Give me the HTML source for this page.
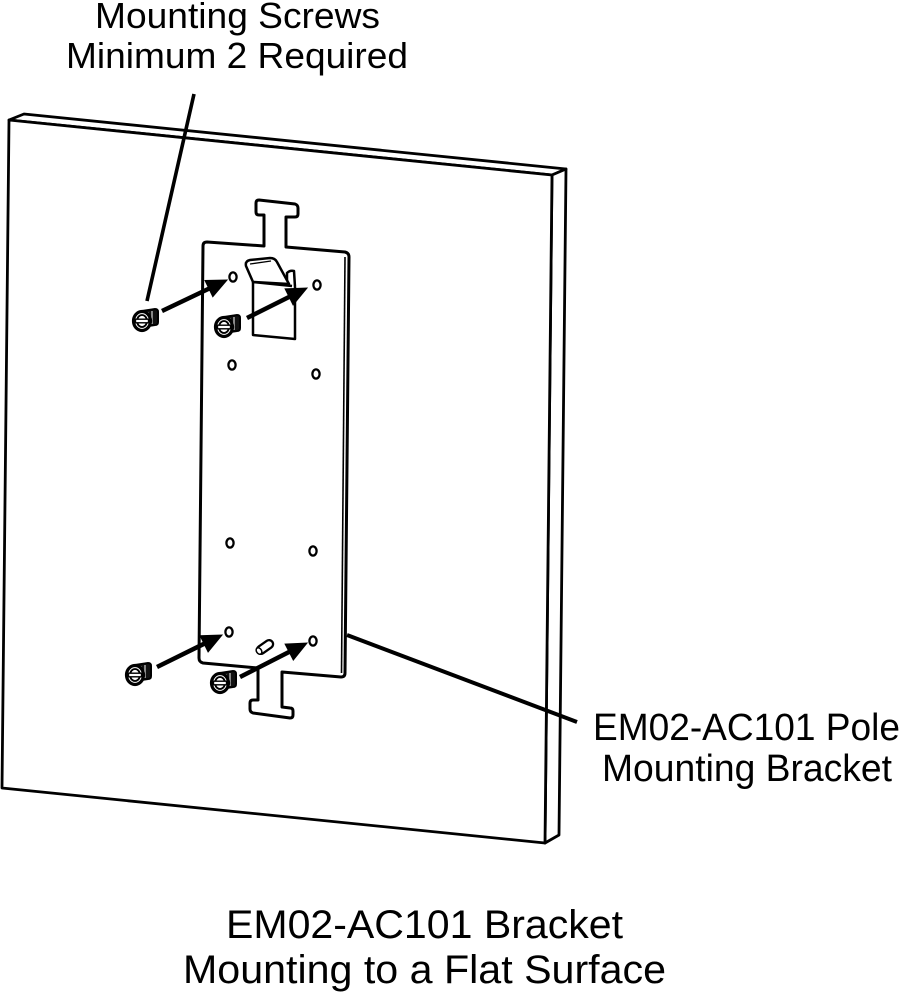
<!DOCTYPE html>
<html>
<head>
<meta charset="utf-8">
<style>
  html, body { margin: 0; padding: 0; background: #fff; }
  svg { display: block; }
  text { font-family: "Liberation Sans", Arial, sans-serif; fill: #000; }
</style>
</head>
<body>
<svg width="901" height="993" viewBox="0 0 901 993" xmlns="http://www.w3.org/2000/svg">
  <defs>
    <g id="screw">
      <path d="M0,-10 L13,-12 Q16,-12 16,-9 L16,1 Q16,4 13,4 L0,6 Z" fill="#111" stroke="#000" stroke-width="2"/>
      <line x1="6" y1="-9" x2="6" y2="3" stroke="#fff" stroke-width="1"/>
      <line x1="10" y1="-10" x2="10" y2="3" stroke="#fff" stroke-width="1"/>
      <ellipse cx="0" cy="0" rx="8.5" ry="9.5" fill="#fff" stroke="#000" stroke-width="3.2"/>
      <ellipse cx="0" cy="0" rx="5" ry="6" fill="none" stroke="#000" stroke-width="1.8"/>
      <rect x="-6.5" y="-1.8" width="13" height="3.6" fill="#fff" stroke="#000" stroke-width="1.4"/>
    </g>
  </defs>

  <!-- Board -->
  <g stroke="#000" stroke-width="2.8" stroke-linejoin="round" fill="#fff">
    <polygon points="9,120 24,114 566,169 552,175"/>
    <polygon points="552,175 566,169 559,835 545,843"/>
    <polygon points="9,120 552,175 545,843 2,788"/>
  </g>

  <!-- Plate -->
  <path d="M203,246 Q203,242 207,242 L264,246 L264,215 L259,215 Q256,215 256,212 L256,203 Q256,200 259,200 L295,204 Q298,205 298,208 L298,214 Q298,217 295,217 L286,217 L286,247 L345,252 Q349,253 349,257 L345,673 Q345,677 341,677 L282,672 L282,707 L290,708 Q293,708 293,711 L293,715 Q293,718 290,718 L253,713 Q250,712 250,709 L250,703 Q250,700 253,700 L258,700 L258,668 L203,663 Q199,662 199,658 Z"
        fill="#fff" stroke="#000" stroke-width="3" stroke-linejoin="round"/>
  <line x1="345" y1="257" x2="341.5" y2="673" stroke="#000" stroke-width="1.6"/>

  <!-- Clip -->
  <g fill="#fff" stroke="#000" stroke-width="2.5" stroke-linejoin="round">
    <path d="M253,282 L253,335 L295,339 L295,287"/>
    <path d="M287,286 L287,273 Q290,270 294,271 L295,287"/>
    <path d="M253,282 L246,266 Q245,261 250,260 L270,258 Q275,258 277,262 L289,284 Z"/>
    <path d="M250,264 L271,261" fill="none" stroke-width="1.3"/>
    <line x1="253" y1="282" x2="292" y2="286"/>
  </g>

  <!-- Holes -->
  <g fill="#fff" stroke="#000" stroke-width="2.3">
    <ellipse cx="233" cy="277" rx="3.6" ry="4.6"/>
    <ellipse cx="317" cy="285" rx="3.6" ry="4.6"/>
    <ellipse cx="232" cy="365" rx="3.6" ry="4.6"/>
    <ellipse cx="316" cy="374" rx="3.6" ry="4.6"/>
    <ellipse cx="230" cy="543" rx="3.6" ry="4.6"/>
    <ellipse cx="313" cy="551" rx="3.6" ry="4.6"/>
    <ellipse cx="229" cy="632" rx="3.6" ry="4.6"/>
    <ellipse cx="313" cy="641" rx="3.6" ry="4.6"/>
    <rect x="256" y="643" width="18" height="8" rx="4" transform="rotate(-35 265 647)"/>
    <ellipse cx="259" cy="651" rx="2.5" ry="3.5" transform="rotate(-35 259 651)" stroke-width="1.5"/>
  </g>

  <!-- Leader lines -->
  <line x1="194" y1="94" x2="147" y2="301" stroke="#000" stroke-width="3.6"/>
  <line x1="347" y1="635" x2="577" y2="722" stroke="#000" stroke-width="4"/>

  <!-- Screws -->
  <use href="#screw" x="142" y="321"/>
  <use href="#screw" x="224" y="327"/>
  <use href="#screw" x="135" y="675"/>
  <use href="#screw" x="220" y="683"/>

  <!-- Arrows -->
  <g stroke="#000" stroke-width="4.5" fill="#000">
    <line x1="162" y1="311" x2="209" y2="288.6"/>
    <polygon points="227,280 212.8,296.7 205,280.5" stroke-width="1"/>
    <line x1="247" y1="318" x2="289" y2="297"/>
    <polygon points="307,288 293.1,305 285.1,288.9" stroke-width="1"/>
    <line x1="157" y1="667" x2="204" y2="643.8"/>
    <polygon points="222,635 208.1,651.9 200.1,635.7" stroke-width="1"/>
    <line x1="240" y1="677" x2="289" y2="652"/>
    <polygon points="307,643 293.3,660.1 285.1,644.1" stroke-width="1"/>
  </g>

  <!-- Labels -->
  <text x="95" y="28" font-size="36" textLength="285" lengthAdjust="spacingAndGlyphs">Mounting Screws</text>
  <text x="66" y="68" font-size="36" textLength="342" lengthAdjust="spacingAndGlyphs">Minimum 2 Required</text>

  <text x="593" y="740" font-size="38" textLength="307" lengthAdjust="spacingAndGlyphs">EM02-AC101 Pole</text>
  <text x="602" y="781" font-size="38" textLength="290" lengthAdjust="spacingAndGlyphs">Mounting Bracket</text>

  <text x="226" y="938" font-size="40" textLength="397" lengthAdjust="spacingAndGlyphs">EM02-AC101 Bracket</text>
  <text x="183" y="983" font-size="40" textLength="483" lengthAdjust="spacingAndGlyphs">Mounting to a Flat Surface</text>
</svg>
</body>
</html>
